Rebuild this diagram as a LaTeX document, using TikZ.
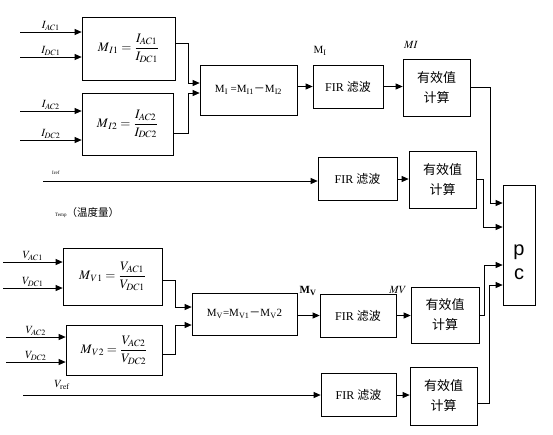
\documentclass[tikz,border=0pt]{standalone}
\usepackage{amsmath}
\usepackage{mathptmx}
\usepackage{fontspec}
\setmainfont{Liberation Serif}
\setsansfont{Liberation Sans}
\newfontfamily\cjk{Noto Sans CJK SC}
\usetikzlibrary{arrows.meta,calc}

\tikzset{
  blk/.style={draw, line width=0.7pt, inner sep=1pt, align=center},
  frm/.style={blk, font=\fontsize{13}{15}\selectfont},
  fir/.style={blk, minimum height=43pt, font=\fontsize{12}{14}\selectfont},
  rms/.style={blk, minimum width=67pt, minimum height=57pt, font=\cjk\fontsize{13}{20}\selectfont},
  arr/.style={-{Triangle[length=7pt,width=6pt]}, line width=0.7pt},
  lbl/.style={inner sep=1pt, font=\fontsize{11}{13}\selectfont},
}

\begin{document}
\begin{tikzpicture}[x=1pt,y=-1pt]
        \useasboundingbox (0,0) rectangle (553,434);

        % 电流通道
        \node[frm, minimum width=93pt, minimum height=63pt] (MI1) at (128.5,48.5) {$M_{\,I1} = \dfrac{I_{AC1}}{I_{DC1}}$};
        \node[frm, minimum width=91pt, minimum height=62pt] (MI2) at (127.5,124) {$M_{\,I2} = \dfrac{I_{AC2}}{I_{DC2}}$};
        \node[blk, minimum width=97pt, minimum height=50pt, font=\fontsize{11}{13}\selectfont] (MI) at (248.5,90) {M\textsubscript{I} =M\textsubscript{I1}{\cjk －}M\textsubscript{I2}};
        \node[fir, minimum width=70pt] (FIR1) at (348,86.5) {FIR {\cjk 滤波}};
        \node[rms] (RMS1) at (436.5,87.5) {有效值\\计算};

        \coordinate (IAC1) at (20,32);
        \coordinate (IDC1) at (20,57);
        \coordinate (IAC2) at (20,111);
        \coordinate (IDC2) at (20,140);
        \draw[arr] (IAC1) -- (IAC1 -| MI1.west) node[lbl, midway, above] {$I_{AC1}$};
        \draw[arr] (IDC1) -- (IDC1 -| MI1.west) node[lbl, midway, above] {$I_{DC1}$};
        \draw[arr] (IAC2) -- (IAC2 -| MI2.west) node[lbl, midway, above] {$I_{AC2}$};
        \draw[arr] (IDC2) -- (IDC2 -| MI2.west) node[lbl, midway, above] {$I_{DC2}$};

        \draw[arr] ([yshift=5.5pt]MI1.east) -- ++(13,0) |- ([yshift=7pt]MI.west);
        \draw[arr] ([yshift=-9pt]MI2.east) -- ++(15,0) |- ([yshift=-3pt]MI.west);
        \draw[arr] (MI.east |- FIR1.west) -- (FIR1.west);
        \draw[arr] (FIR1.east) -- (FIR1.east -| RMS1.west);
        \node[lbl] (lMI) at (320,51) {M\textsubscript{I}};
        \node[lbl] (lMIb) at (411,45) {$MI$};

        % 参考电流与温度
        \node[fir, minimum width=79pt] (FIR2) at (357.5,179) {FIR {\cjk 滤波}};
        \node[rms] (RMS2) at (442.5,179.5) {有效值\\计算};
        \coordinate (Iref) at (43,181);
        \draw[arr] (Iref) -- (Iref -| FIR2.west);
        \draw[arr] (FIR2.east) -- (FIR2.east -| RMS2.west);
        \node[inner sep=0pt, font=\fontsize{5}{6}\selectfont, anchor=west] (lIref) at (52,173) {Iref};
        \node[inner sep=0pt, anchor=west] (lTemp) at (55,213) {{\fontsize{5}{6}\selectfont Temp}{\cjk\fontsize{10.5}{12}\selectfont（温度量）}};

        % 电压通道
        \node[frm, minimum width=99pt, minimum height=57pt] (MV1) at (112.5,276.5) {$M_{\,V1} = \dfrac{V_{AC1}}{V_{DC1}}$};
        \node[frm, minimum width=96pt, minimum height=50pt] (MV2) at (114,350) {$M_{\,V2} = \dfrac{V_{AC2}}{V_{DC2}}$};
        \node[blk, minimum width=105pt, minimum height=42pt, font=\fontsize{11}{13}\selectfont] (MV) at (244.5,314) {M\textsubscript{V}=M\textsubscript{V1}{\cjk －}M\textsubscript{V}2};
        \node[fir, minimum width=76pt] (FIR3) at (358,315.5) {FIR {\cjk 滤波}};
        \node[rms, minimum width=68pt, minimum height=56pt] (RMS3) at (445,315) {有效值\\计算};

        \coordinate (VAC1) at (3,262);
        \coordinate (VDC1) at (3,288);
        \coordinate (VAC2) at (6,337);
        \coordinate (VDC2) at (6,362);
        \draw[arr] (VAC1) -- (VAC1 -| MV1.west) node[lbl, midway, above] {$V_{AC1}$};
        \draw[arr] (VDC1) -- (VDC1 -| MV1.west) node[lbl, midway, above] {$V_{DC1}$};
        \draw[arr] (VAC2) -- (VAC2 -| MV2.west) node[lbl, midway, above] {$V_{AC2}$};
        \draw[arr] (VDC2) -- (VDC2 -| MV2.west) node[lbl, midway, above] {$V_{DC2}$};

        \draw[arr] ([yshift=-3.5pt]MV1.east) -- ++(13,0) |- ([yshift=7pt]MV.west);
        \draw[arr] ([yshift=-4pt]MV2.east) -- ++(13,0) |- ([yshift=-11pt]MV.west);
        \draw[arr] (MV.east |- FIR3.west) -- (FIR3.west);
        \draw[arr] (FIR3.east) -- (FIR3.east -| RMS3.west);
        \node[lbl] (lMV) at (308,291) {\textbf{M\textsubscript{V}}};
        \node[lbl] (lMVb) at (398,290) {$MV$};

        % 参考电压
        \node[fir, minimum width=75pt] (FIR4) at (358.5,395) {FIR {\cjk 滤波}};
        \node[rms, minimum height=58pt] (RMS4) at (443.5,396) {有效值\\计算};
        \coordinate (Vref) at (23,395);
        \draw[arr] (Vref) -- (Vref -| FIR4.west);
        \draw[arr] (FIR4.east) -- (FIR4.east -| RMS4.west);
        \node[lbl] (lVref) at (62,385) {$V_{\mathrm{ref}}$};

        % 处理器
        \node[blk, minimum width=32pt, minimum height=120pt] (pc) at (519,245) {};
        \node[font=\sffamily\fontsize{20}{24}\selectfont, align=center] (pcT) at (519,262) {p\\c};
        \draw[arr] (RMS1.east) -- ++(20,0) |- ([yshift=42pt]pc.west);
        \draw[arr] (RMS2.east) -- ++(7,0) |- ([yshift=18pt]pc.west);
        \draw[arr] (RMS3.east) -- ++(5,0) |- ([yshift=-20pt]pc.west);
        \draw[arr] ([yshift=-7pt]RMS4.east) -- ++(12,0) |- ([yshift=-40pt]pc.west);
\end{tikzpicture}
\end{document}
